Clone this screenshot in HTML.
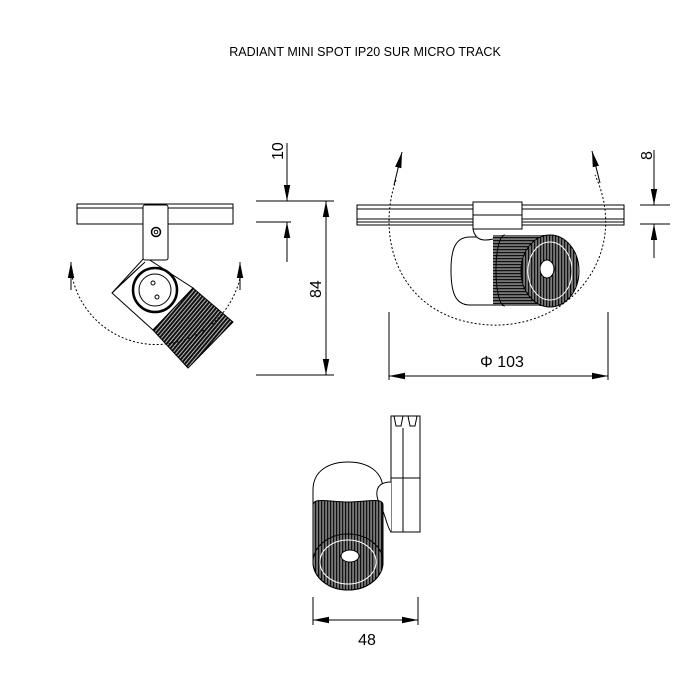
<!DOCTYPE html>
<html><head><style>
html,body{margin:0;padding:0;background:#fff;}
svg{display:block;font-family:"Liberation Sans",sans-serif;}
</style></head><body>
<svg width="700" height="700" viewBox="0 0 700 700" xmlns="http://www.w3.org/2000/svg">
<defs>
<pattern id="rib" width="3" height="3" patternUnits="userSpaceOnUse"><rect width="3" height="3" fill="#111"/><rect x="1.6" width="0.9" height="3" fill="#ddd"/></pattern>
<pattern id="ribH" width="3" height="3" patternUnits="userSpaceOnUse"><rect width="3" height="3" fill="#111"/><rect y="1.6" width="3" height="0.9" fill="#ddd"/></pattern>
<pattern id="ribD" width="3" height="3" patternUnits="userSpaceOnUse" patternTransform="rotate(40)"><rect width="3" height="3" fill="#111"/><rect x="1.6" width="0.9" height="3" fill="#ccc"/></pattern>
<marker id="arL" viewBox="0 0 16 10" refX="16" refY="5" markerWidth="16" markerHeight="10" markerUnits="userSpaceOnUse" orient="auto"><path d="M0,1.8 L16,5 L0,8.2Z" fill="#000"/></marker>
</defs>
<text x="365" y="56" font-size="12.5" text-anchor="middle" fill="#000">RADIANT MINI SPOT IP20 SUR MICRO TRACK</text>

<g stroke="#000" fill="none" stroke-width="1">
<!-- LEFT VIEW -->
<rect x="77" y="204" width="156" height="20" fill="#fff"/>
<line x1="77" y1="208" x2="233" y2="208"/>
<path d="M112,293 L145,257 L193,288 L153,330Z" fill="#fff"/>
<path d="M193,288 L233,322 L188,368 L153,330Z" fill="url(#ribD)"/>
<path d="M112,293 L145,262 L120,285" />
<rect x="143" y="205" width="25" height="55" rx="2" fill="#fff"/>
<circle cx="156" cy="232" r="4.5" stroke-width="1.5"/>
<circle cx="156" cy="232" r="1.8"/>
<circle cx="155" cy="290" r="22" stroke-width="2.5" fill="#fff"/>
<circle cx="155" cy="290" r="16"/>
<circle cx="153" cy="283" r="2"/>
<circle cx="157" cy="297" r="2"/>
<path d="M71,270 A86,86 0 0 0 240,278" stroke-dasharray="2,2"/>
<line x1="71" y1="290" x2="71" y2="262" marker-end="url(#arL)"/>
<line x1="240" y1="290" x2="240" y2="262" marker-end="url(#arL)"/>
<!-- dims left -->
<line x1="287" y1="143" x2="287" y2="201" marker-end="url(#arL)"/>
<line x1="256" y1="201" x2="334" y2="201"/>
<line x1="256" y1="222" x2="291" y2="222"/>
<line x1="287" y1="262" x2="287" y2="222" marker-end="url(#arL)"/>
<line x1="326" y1="287" x2="326" y2="201" marker-end="url(#arL)"/>
<line x1="326" y1="287" x2="326" y2="375" marker-end="url(#arL)"/>
<line x1="256" y1="375" x2="334" y2="375"/>

<!-- MIDDLE VIEW -->
<rect x="357" y="205" width="267" height="20" fill="#fff"/>
<line x1="357" y1="209" x2="624" y2="209"/>
<line x1="357" y1="219" x2="624" y2="219"/>
<line x1="357" y1="222" x2="624" y2="222"/>
<path d="M470,237 C455,237 451,250 451,270 C451,292 455,305 470,305 L512,305 L512,237Z" fill="#fff"/>
<path d="M473,229 C476,245 490,240 505,236" fill="#fff"/>
<rect x="493" y="235" width="60" height="71" fill="url(#ribH)" stroke="none"/>
<path d="M505,235 C493,235 493,306 505,306" fill="url(#ribH)"/>
<ellipse cx="550" cy="271" rx="29" ry="36" fill="url(#rib)"/>
<ellipse cx="550" cy="271" rx="22" ry="29" fill="url(#rib)" stroke="#fff"/>
<ellipse cx="547" cy="269" rx="7" ry="9" fill="#fff" stroke="#000"/>
<rect x="473" y="202" width="49" height="27" fill="#fff"/>
<line x1="473" y1="215" x2="522" y2="215"/>
<path d="M396,180 C375,240 400,320 490,325 C575,328 630,250 595,175" stroke-dasharray="2,2"/>
<line x1="394" y1="185" x2="402" y2="152" marker-end="url(#arL)"/>
<line x1="600" y1="183" x2="592" y2="151" marker-end="url(#arL)"/>
<!-- dims middle -->
<line x1="654" y1="150" x2="654" y2="205" marker-end="url(#arL)"/>
<line x1="640" y1="205" x2="670" y2="205"/>
<line x1="640" y1="224" x2="670" y2="224"/>
<line x1="654" y1="258" x2="654" y2="224" marker-end="url(#arL)"/>
<line x1="389" y1="312" x2="389" y2="380"/>
<line x1="608" y1="312" x2="608" y2="380"/>
<line x1="498" y1="376" x2="389" y2="376" marker-end="url(#arL)"/>
<line x1="498" y1="376" x2="608" y2="376" marker-end="url(#arL)"/>

<!-- BOTTOM VIEW -->
<rect x="391" y="416" width="29" height="116" fill="#fff"/>
<path d="M394,416 L396,426 L401,426 L403,416 M408,416 L410,426 L415,426 L417,416"/>
<line x1="403" y1="428" x2="403" y2="532"/>
<line x1="391" y1="478" x2="420" y2="478"/>
<path d="M313,490 C313,470 330,462 348,462 C366,462 383,470 383,490 L383,562 A35,28 0 0 1 313,562 Z" fill="#fff"/>
<path d="M391,482 C378,482 373,490 380,505 C386,515 386,525 391,532" fill="#fff"/>
<path d="M313,505 C313,497 330,502 348,502 C366,502 383,497 383,505 L383,562 L313,562Z" fill="url(#rib)"/>
<ellipse cx="348" cy="562" rx="35" ry="28" fill="url(#rib)"/>
<ellipse cx="348" cy="562" rx="28" ry="22" fill="url(#rib)" stroke="#fff"/>
<ellipse cx="350" cy="556" rx="9" ry="6" fill="#fff" stroke="#000"/>
<line x1="313" y1="597" x2="313" y2="625"/>
<line x1="418" y1="597" x2="418" y2="625"/>
<line x1="365" y1="620" x2="313" y2="620" marker-end="url(#arL)"/>
<line x1="365" y1="620" x2="418" y2="620" marker-end="url(#arL)"/>
</g>

<g font-size="16" fill="#000">
<text transform="translate(283,160) rotate(-90)">10</text>
<text transform="translate(321,298) rotate(-90)">84</text>
<text transform="translate(652,160) rotate(-90)">8</text>
<text x="480" y="367">Φ 103</text>
<text x="367" y="645" text-anchor="middle">48</text>
</g>
</svg>
</body></html>
